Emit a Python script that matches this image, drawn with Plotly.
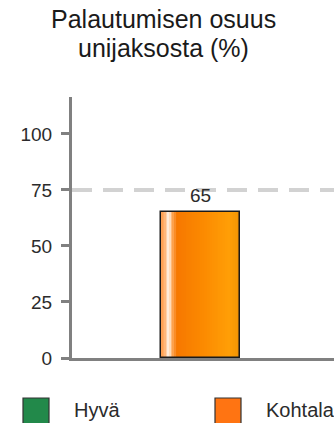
import plotly.graph_objects as go

# --- data ---------------------------------------------------------------
categories = ["Unijakso"]
recovery_share = [65]          # % of the sleep period spent in recovery
target_level = 75              # dashed reference line
y_ticks = [0, 25, 50, 75, 100]
legend_labels = ["Hyvä", "Kohtalainen"]
legend_colors = ["#22894a", "#ff7412"]
title_lines = ["Palautumisen osuus", "unijaksosta (%)"]

# --- geometry / style ---------------------------------------------------
W, H = 334, 423
M_L, M_R, M_T, M_B = 72, 0, 97, 65
PLOT_W = W - M_L - M_R
PLOT_H = H - M_T - M_B
AXIS_GREY = "#808080"
TEXT = "#2b2b2b"
FONT = "Liberation Sans, Arial, sans-serif"
BAR_WIDTH = 0.603
X_RANGE = [-0.98, 1.02]
Y_RANGE = [0, 116.5]


def px_x(px):
    return (px - M_L) / PLOT_W


def px_y(py):
    return (H - M_B - py) / PLOT_H


def hex_to_rgb(h):
    h = h.lstrip("#")
    return tuple(int(h[i:i + 2], 16) for i in (0, 2, 4))


def lerp_color(stops, t):
    for (t0, c0), (t1, c1) in zip(stops, stops[1:]):
        if t0 <= t <= t1:
            f = 0 if t1 == t0 else (t - t0) / (t1 - t0)
            a, b = hex_to_rgb(c0), hex_to_rgb(c1)
            r = [round(a[k] + (b[k] - a[k]) * f) for k in range(3)]
            return "rgb({},{},{})".format(*r)
    return stops[-1][1]


# horizontal shading across the bar (glossy highlight near the left edge)
shade_stops = [
    (0.00, "#ff9d4c"),
    (0.05, "#ffb474"),
    (0.10, "#fff4e8"),
    (0.14, "#ffb068"),
    (0.20, "#f77800"),
    (0.50, "#fb8800"),
    (0.86, "#ff9e06"),
    (0.95, "#f79805"),
    (1.00, "#e98a00"),
]

fig = go.Figure()

N_STRIPS = 48
step = BAR_WIDTH / N_STRIPS
for i in range(N_STRIPS):
    left = -BAR_WIDTH / 2 + i * step
    width = min(step * 1.8, BAR_WIDTH / 2 - left)
    fig.add_trace(go.Bar(
        x=categories, y=recovery_share,
        offset=left, width=width,
        marker=dict(color=lerp_color(shade_stops, (i + 0.5) / N_STRIPS),
                    line=dict(width=0)),
        showlegend=False, hoverinfo="skip",
    ))

# outline of the bar
fig.add_trace(go.Bar(
    x=categories, y=recovery_share,
    width=BAR_WIDTH,
    marker=dict(color="rgba(0,0,0,0)", line=dict(color="#1a1a1a", width=1.5)),
    showlegend=False, hoverinfo="skip",
))

# value label above the bar
for cat, val in zip(categories, recovery_share):
    fig.add_annotation(x=cat, y=val, text=str(val), showarrow=False,
                       yanchor="middle", yshift=17,
                       font=dict(family=FONT, size=19, color=TEXT))

# dashed target line
fig.add_shape(type="line", xref="paper", yref="y",
              x0=0, x1=1, y0=target_level, y1=target_level,
              line=dict(color="#d2d2d2", width=4, dash="20px,11px"),
              layer="below")

# two-line title
for i, line in enumerate(title_lines):
    fig.add_annotation(xref="paper", yref="paper",
                       x=px_x(163), y=px_y(19 + 29 * i),
                       text=line, showarrow=False, borderpad=0,
                       xanchor="center", yanchor="middle",
                       font=dict(family=FONT, size=25, color="#1a1a1a"))

# legend: coloured squares + labels
legend_x = [23, 215]
for lx, lab, col in zip(legend_x, legend_labels, legend_colors):
    fig.add_shape(type="rect", xref="paper", yref="paper",
                  x0=px_x(lx), x1=px_x(lx + 26),
                  y0=px_y(424), y1=px_y(398),
                  fillcolor=col, line=dict(color="#333333", width=1.2))
    fig.add_annotation(xref="paper", yref="paper",
                       x=px_x(lx + 49), y=px_y(410),
                       text=lab, showarrow=False,
                       xanchor="left", yanchor="middle",
                       font=dict(family=FONT, size=20, color=TEXT))

fig.update_layout(
    width=W, height=H,
    margin=dict(l=M_L, r=M_R, t=M_T, b=M_B, pad=0),
    paper_bgcolor="white", plot_bgcolor="white",
    barmode="overlay", bargap=0,
    showlegend=False,
    font=dict(family=FONT, color=TEXT),
)
fig.update_xaxes(type="category", range=X_RANGE, showticklabels=False,
                 showgrid=False, zeroline=False, ticks="",
                 showline=True, linecolor=AXIS_GREY, linewidth=3)
fig.update_yaxes(range=Y_RANGE, tickvals=y_ticks, showgrid=False,
                 zeroline=False, showline=True, linecolor=AXIS_GREY,
                 linewidth=3, ticks="outside", ticklen=8, tickwidth=3,
                 tickcolor=AXIS_GREY, ticklabelstandoff=5,
                 tickfont=dict(family=FONT, size=19, color=TEXT))

fig.write_html("out.html")
